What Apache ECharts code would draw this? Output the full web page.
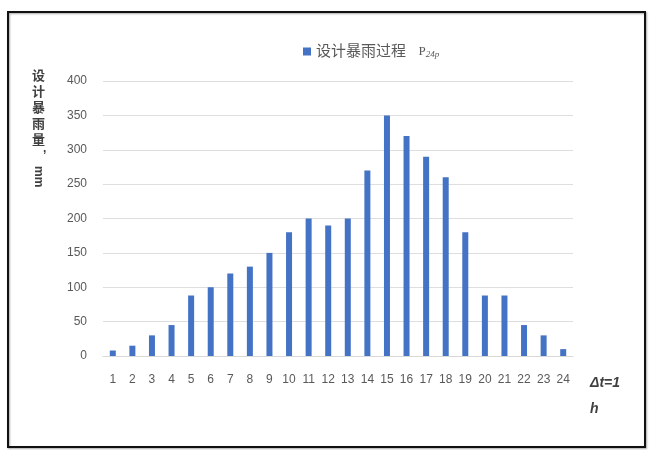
<!DOCTYPE html>
<html>
<head>
<meta charset="utf-8">
<script src="https://cdn.jsdelivr.net/npm/echarts@6/dist/echarts.min.js"></script>
<style>
  html, body { margin: 0; padding: 0; background: #fff; }
  #chart { width: 651px; height: 450px; }
</style>
</head>
<body>
<div id="chart"></div>
<script>
// Hourly design storm, 24 one-hour steps
const hours = ['1','2','3','4','5','6','7','8','9','10','11','12','13','14','15','16','17','18','19','20','21','22','23','24'];
const rainfall = [8, 15, 30, 45, 88, 100, 120, 130, 150, 180, 200, 190, 200, 270, 350, 320, 290, 260, 180, 88, 88, 45, 30, 10];
const yTicks = [0, 50, 100, 150, 200, 250, 300, 350, 400];

const chart = echarts.init(document.getElementById('chart'), null, { renderer: 'canvas' });
const labelColor = '#595959';
const font = '"Liberation Sans", "Noto Sans CJK SC", sans-serif';

chart.setOption({
  animation: false,
  backgroundColor: '#fff',
  textStyle: { fontFamily: font },
  legend: {
    top: 39,
    left: 298,
    itemWidth: 8,
    itemHeight: 8,
    itemGap: 4,
    icon: 'rect',
    textStyle: {
      color: labelColor,
      fontSize: 15,
      rich: {
        sub: { fontSize: 9, color: labelColor, verticalAlign: 'bottom', padding: [7, 0, 0, 0], fontStyle: 'italic', fontFamily: '"Liberation Serif", serif' },
        p: { fontSize: 13, color: labelColor, fontFamily: '"Liberation Serif", serif' }
      }
    },
    formatter: () => '设计暴雨过程   {p|P}{sub|24p}',
    data: ['设计暴雨过程']
  },
  grid: { left: 103, right: 78, top: 81, bottom: 94 },
  xAxis: {
    type: 'category',
    data: hours,
    axisLine: { show: true, lineStyle: { color: '#d9d9d9', width: 1 } },
    axisTick: { show: false },
    axisLabel: { color: labelColor, fontSize: 12, margin: 18, interval: 0 },
    name: 'Δt=1\nh',
    nameLocation: 'end',
    nameGap: 17,
    nameTextStyle: {
      color: '#404040', fontSize: 14, fontWeight: 'bold', fontStyle: 'italic',
      align: 'left', verticalAlign: 'top', padding: [14, 0, 0, 0], lineHeight: 26
    }
  },
  yAxis: {
    type: 'value',
    min: yTicks[0],
    max: yTicks[yTicks.length - 1],
    interval: 50,
    axisLine: { show: false },
    axisTick: { show: false },
    axisLabel: { color: labelColor, fontSize: 12, margin: 16 },
    splitLine: { lineStyle: { color: '#dedede', width: 1 } }
  },
  series: [{
    name: '设计暴雨过程',
    type: 'bar',
    data: rainfall,
    barWidth: 6,
    itemStyle: { color: '#4472C4' }
  }],
  graphic: [
    {
      type: 'rect',
      shape: { x: 8, y: 12, width: 637, height: 435 },
      style: { fill: 'none', stroke: '#111', lineWidth: 2, shadowColor: 'rgba(0,0,0,0.35)', shadowBlur: 2, shadowOffsetX: 1, shadowOffsetY: 1 },
      silent: true
    },
    {
      type: 'text',
      left: 32,
      top: 68,
      style: { text: '设\n计\n暴\n雨\n量', fill: '#404040', fontSize: 13, lineHeight: 16, fontFamily: font, fontWeight: 'bold' }
    },
    {
      type: 'text',
      left: 43,
      top: 143,
      style: { text: ',', fill: '#404040', fontSize: 12, fontFamily: font, fontWeight: 'bold' }
    },
    {
      type: 'text',
      x: 32,
      y: 166,
      rotation: -Math.PI / 2,
      style: { text: 'mm', fill: '#404040', fontSize: 12, fontFamily: font, fontWeight: 'bold', align: 'left', verticalAlign: 'bottom' }
    }
  ]
});
</script>
</body>
</html>
